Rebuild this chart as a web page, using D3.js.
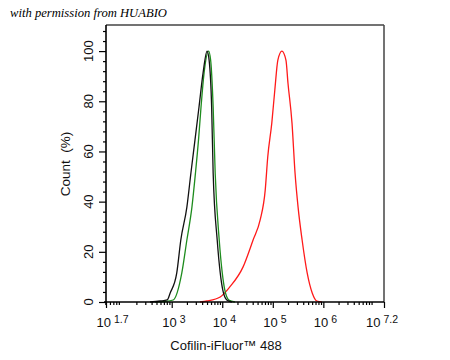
<!DOCTYPE html>
<html><head><meta charset="utf-8">
<script src="https://cdn.jsdelivr.net/npm/d3@7"></script>
<style>body{margin:0;background:#fff}svg{display:block}</style>
</head><body>
<script>
// x values are log10 of fluorescence intensity; y values are Count (%)
const blackX = [2.57,2.77,2.91,2.97,3.10,3.18,3.30,3.38,3.46,3.54,3.62,3.70,3.74,3.79,3.82,3.90,3.96,4.01,4.09,4.19];
const blackY = [0,0.4,0.8,3.6,11.6,24.7,37.8,51.4,64.5,77.7,91.2,100,96.4,77.7,51.4,24.7,11.6,4.8,0.8,0];
const greenX = [2.67,2.87,3.03,3.20,3.30,3.40,3.47,3.53,3.58,3.64,3.73,3.77,3.82,3.86,3.94,4.00,4.05,4.13,4.25];
const greenY = [0,0.2,0.8,11.6,24.7,37.8,51.4,64.5,77.7,91.2,100,96.4,77.7,51.4,24.7,11.6,4.8,0.8,0];
const redX = [3.56,3.70,3.96,4.15,4.41,4.61,4.75,4.85,4.90,4.98,5.04,5.10,5.18,5.26,5.30,5.38,5.44,5.50,5.58,5.68,5.78,5.87,5.97];
const redY = [0,0.4,2.0,6.0,13.9,24.7,32.7,44.6,57.8,71.3,84.5,96.4,100,96.4,87.3,71.3,51.4,37.8,24.7,11.6,3.6,0.4,0];
const xTickExps = ["1.7","3","4","5","6","7.2"];
const yTicks = [0,20,40,60,80,100];
const xTitle = "Cofilin-iFluor\u2122 488";
const yTitle = "Count  (%)";
const watermark = "with permission from HUABIO";

const W = 450, H = 360;
const L = 106, T = 25, R = 384, B = 302;
const svg = d3.select("body").append("svg").attr("width", W).attr("height", H);

const x = d3.scaleLog().domain([Math.pow(10,1.7), Math.pow(10,7.2)]).range([L, R]);
const y = d3.scaleLinear().domain([0, 110.4]).range([B, T]);

svg.append("text").attr("x", 10).attr("y", 17)
  .attr("font-family", "'Liberation Serif', 'DejaVu Serif', serif")
  .attr("font-style", "italic").attr("font-size", 12)
  .attr("textLength", 157).attr("lengthAdjust", "spacingAndGlyphs")
  .text(watermark);

// curves
const line = d3.line().x(d => x(Math.pow(10, d[0]))).y(d => y(d[1])).curve(d3.curveMonotoneX);
const series = [
  {xs: redX, ys: redY, c: "#ff1a1a"},
  {xs: greenX, ys: greenY, c: "#1e8c1e"},
  {xs: blackX, ys: blackY, c: "#111"}
];
series.forEach(s => {
  svg.append("path").attr("d", line(s.xs.map((v,i) => [v, s.ys[i]])))
    .attr("fill", "none").attr("stroke", s.c).attr("stroke-width", 1.3);
});

// frame top/right
svg.append("line").attr("x1", L).attr("x2", R).attr("y1", T).attr("y2", T).attr("stroke", "#444").attr("stroke-width", 1.5);
svg.append("line").attr("x1", R).attr("x2", R).attr("y1", T).attr("y2", B).attr("stroke", "#444").attr("stroke-width", 1.5);

// y axis
const yMinor = d3.range(0, 110, 4).filter(v => !yTicks.includes(v));
const yAx = svg.append("g").attr("transform", `translate(${L},0)`);
yAx.call(d3.axisLeft(y).tickValues(yMinor).tickSize(3).tickFormat(""));
yAx.call(g => g.select(".domain").remove());
const yMaj = svg.append("g").attr("transform", `translate(${L},0)`)
  .call(d3.axisLeft(y).tickValues(yTicks).tickSize(7).tickFormat(""));
yMaj.select(".domain").remove();
svg.selectAll("g .tick line").attr("stroke", "#000").attr("stroke-width", 1.2);
svg.append("line").attr("x1", L).attr("x2", L).attr("y1", T).attr("y2", B + 3).attr("stroke", "#000").attr("stroke-width", 1.6);
yTicks.forEach(v => {
  svg.append("text").attr("transform", `translate(${L - 13},${y(v)}) rotate(-90)`)
    .attr("text-anchor", "middle").attr("font-family", "'Liberation Sans', Arial, sans-serif")
    .attr("font-size", 13).attr("fill", "#111").text(v);
});

// x axis
const xMinor = [];
for (let n = 1; n <= 7; n++) for (let k = 2; k <= 9; k++) {
  const v = k * Math.pow(10, n);
  if (v > x.domain()[0] && v < x.domain()[1]) xMinor.push(v);
}
const xg = svg.append("g").attr("transform", `translate(0,${B})`)
  .call(d3.axisBottom(x).tickValues(xMinor).tickSize(3).tickFormat(""));
xg.select(".domain").remove();
const xg2 = svg.append("g").attr("transform", `translate(0,${B})`)
  .call(d3.axisBottom(x).tickValues(xTickExps.map(e => Math.pow(10, +e))).tickSize(6).tickFormat(""));
xg2.select(".domain").remove();
svg.selectAll("g .tick line").attr("stroke", "#000").attr("stroke-width", 1.2);
svg.append("line").attr("x1", L - 2).attr("x2", R).attr("y1", B).attr("y2", B).attr("stroke", "#000").attr("stroke-width", 1.6);

xTickExps.forEach((e, i) => {
  const px = x(Math.pow(10, +e));
  const last = i === xTickExps.length - 1;
  const t = svg.append("text").attr("font-family", "'Liberation Sans', Arial, sans-serif")
    .attr("font-size", 13).attr("fill", "#111")
    .attr("x", last ? px - 18 : px - 9.5).attr("y", 327);
  t.append("tspan").text("10");
  t.append("tspan").attr("font-size", 10.5).attr("dx", 3).attr("dy", -4).text(e);
});

svg.append("text").attr("x", 226).attr("y", 350).attr("text-anchor", "middle")
  .attr("font-family", "'Liberation Sans', Arial, sans-serif").attr("font-size", 13)
  .attr("fill", "#111").text(xTitle);
svg.append("text").attr("transform", "translate(70,164) rotate(-90)").attr("text-anchor", "middle")
  .attr("font-family", "'Liberation Sans', Arial, sans-serif").attr("font-size", 13.5)
  .attr("fill", "#111").attr("xml:space", "preserve").style("white-space", "pre").text(yTitle);
</script>
</body></html>
